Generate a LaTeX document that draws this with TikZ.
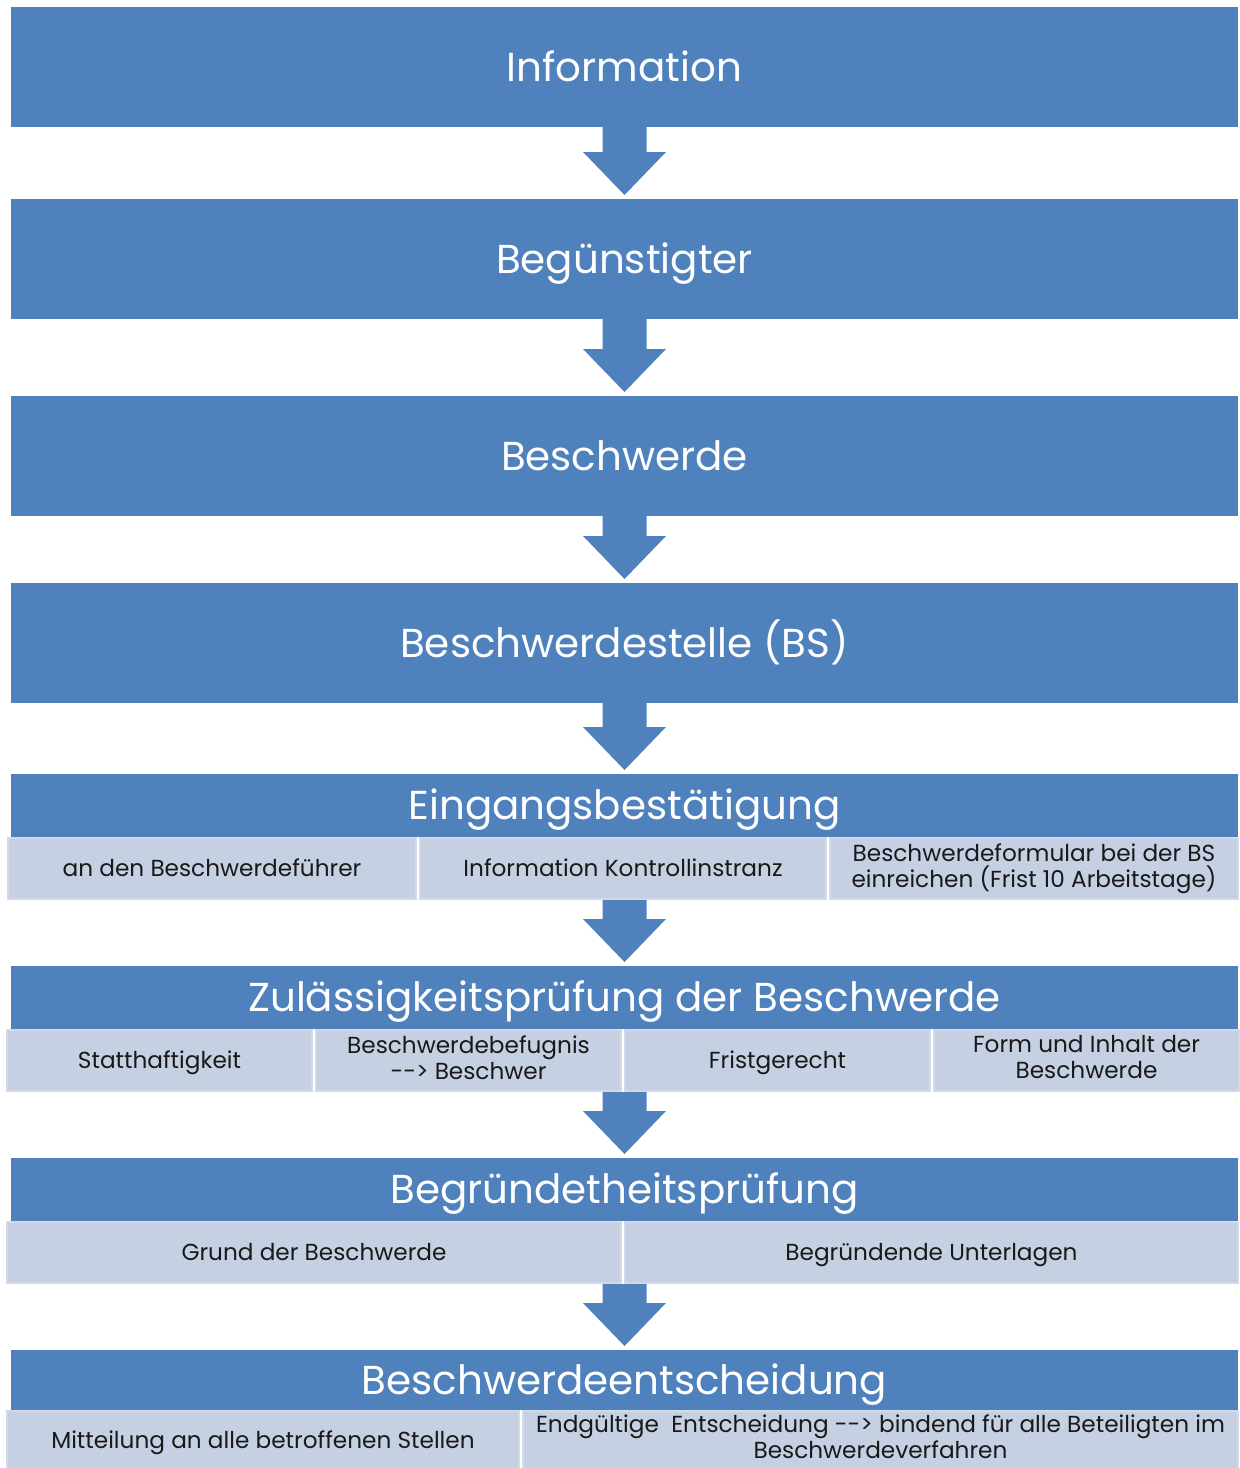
\documentclass[tikz,border=0pt]{standalone}
\usepackage{fontspec}
\setmainfont{Poppins}
\usetikzlibrary{positioning, calc}
\definecolor{boxblue}{RGB}{79,129,189}
\definecolor{subfill}{RGB}{197,208,227}
\definecolor{subedge}{RGB}{210,218,233}
\newcommand{\stagestrut}{\rule[-6pt]{0pt}{26pt}}
\newcommand{\detailstrut}{\rule[-3.2pt]{0pt}{14.4pt}}
\newcommand{\flowarrow}[2]{%
  \fill[boxblue] ($(#1 -| #2.north)+(-11pt,0)$) -- ($(#2.north)+(-11pt,23.5pt)$)
    -- ($(#2.north)+(-20.75pt,23.5pt)$) -- ($(#2.north)+(0,2pt)$)
    -- ($(#2.north)+(20.75pt,23.5pt)$) -- ($(#2.north)+(11pt,23.5pt)$)
    -- ($(#1 -| #2.north)+(11pt,0)$) -- cycle;}
\begin{document}
\begin{tikzpicture}[
  stage/.style={fill=boxblue, text=white, minimum width=613.5pt, minimum height=60pt, inner sep=0pt, outer sep=0pt, font=\fontsize{20.2}{25}\selectfont, execute at begin node=\stagestrut},
  stagehead/.style={stage, minimum height=31.5pt},
  detail/.style={fill=subfill, draw=subedge, line width=1pt, minimum height=30.5pt, inner sep=1pt, align=center, text=black!90, font=\fontsize{11.6}{13}\selectfont, execute at begin node=\detailstrut, execute at end node=\detailstrut}
]
\useasboundingbox (0,0) rectangle (619.5pt,-734pt);
\node[stage] (Info) at (312.25pt,-33.5pt) {Information};
\node[stage, below=36pt of Info] (Beg) {Begünstigter};
\node[stage, below=38.5pt of Beg] (Beschw) {Beschwerde};
\node[stage, below=33.5pt of Beschw] (BS) {Beschwerdestelle (BS)};
% Eingangsbestaetigung
\node[stagehead, below=35.5pt of BS] (Eing) {Eingangsbestätigung};
\node[detail, minimum width=204pt, below right=0pt and -2pt of Eing.south west] (Eing1) {an den Beschwerdeführer};
\node[detail, minimum width=203pt, right=1pt of Eing1] (Eing2) {Information Kontrollinstranz};
\node[detail, minimum width=204pt, right=1pt of Eing2] (Eing3) {Beschwerdeformular bei der BS\\einreichen (Frist 10 Arbeitstage)};
% Zulaessigkeit
\node[stagehead, below=64.5pt of Eing] (Zul) {Zulässigkeitsprüfung der Beschwerde};
\node[detail, minimum width=152.5pt, below right=0pt and -2.5pt of Zul.south west] (Zul1) {Statthaftigkeit};
\node[detail, minimum width=152.5pt, right=1pt of Zul1] (Zul2) {Beschwerdebefugnis\\{-}{-}> Beschwer};
\node[detail, minimum width=152.5pt, right=1pt of Zul2] (Zul3) {Fristgerecht};
\node[detail, minimum width=152.5pt, right=1pt of Zul3] (Zul4) {Form und Inhalt der\\Beschwerde};
% Begruendetheit
\node[stagehead, below=64.5pt of Zul] (Begr) {Begründetheitsprüfung};
\node[detail, minimum width=307pt, below right=0pt and -2.5pt of Begr.south west] (Begr1) {Grund der Beschwerde};
\node[detail, minimum width=306.5pt, right=1pt of Begr1] (Begr2) {Begründende Unterlagen};
% Entscheidung
\node[stagehead, minimum height=30pt, below=64.5pt of Begr] (Entsch) {Beschwerdeentscheidung};
\node[detail, minimum width=256pt, minimum height=29pt, below right=0pt and -2.5pt of Entsch.south west] (Entsch1) {Mitteilung an alle betroffenen Stellen};
\node[detail, minimum width=357.5pt, minimum height=29pt, right=1pt of Entsch1] (Entsch2) {Endgültige\ \ Entscheidung {-}{-}> bindend für alle Beteiligten im\\Beschwerdeverfahren};
% arrows
\flowarrow{Info.south}{Beg}
\flowarrow{Beg.south}{Beschw}
\flowarrow{Beschw.south}{BS}
\flowarrow{BS.south}{Eing}
\flowarrow{Eing2.south}{Zul}
\flowarrow{Zul2.south}{Begr}
\flowarrow{Begr1.south}{Entsch}
\end{tikzpicture}
\end{document}
